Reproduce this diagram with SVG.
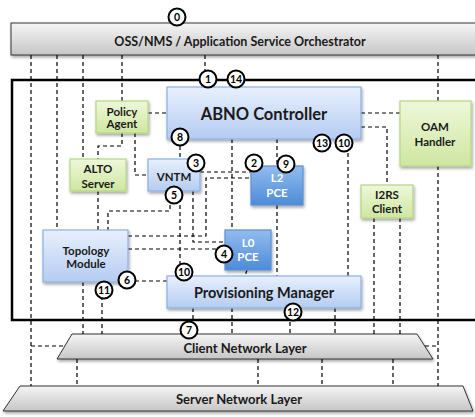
<svg xmlns="http://www.w3.org/2000/svg" width="475" height="417" viewBox="0 0 475 417">
<defs>
<linearGradient id="gGray" x1="0" y1="0" x2="0" y2="1"><stop offset="0" stop-color="#f5f5f5"/><stop offset="1" stop-color="#c6c6c6"/></linearGradient>
<linearGradient id="gBlue" x1="0" y1="0" x2="0" y2="1"><stop offset="0" stop-color="#e8f0fd"/><stop offset="1" stop-color="#b4ccf2"/></linearGradient>
<linearGradient id="gDark" x1="0" y1="0" x2="0" y2="1"><stop offset="0" stop-color="#92bcee"/><stop offset="1" stop-color="#4d8bd9"/></linearGradient>
<linearGradient id="gGreen" x1="0" y1="0" x2="0" y2="1"><stop offset="0" stop-color="#eef8da"/><stop offset="1" stop-color="#cfe6a0"/></linearGradient>
<filter id="sh" x="-10%" y="-10%" width="130%" height="140%"><feDropShadow dx="1" dy="2" stdDeviation="1.5" flood-color="#000" flood-opacity="0.35"/></filter>
</defs>
<style>
.c{fill:none;stroke:#000;stroke-width:1.2;stroke-dasharray:4 3}
.gray{fill:url(#gGray);stroke:#333;stroke-width:1;filter:url(#sh)}
.blue{fill:url(#gBlue);stroke:#8eb0e2;stroke-width:1.2;filter:url(#sh)}
.dark{fill:url(#gDark);stroke:#5b8fd4;stroke-width:1.2;filter:url(#sh)}
.green{fill:url(#gGreen);stroke:#b6d584;stroke-width:1.2;filter:url(#sh)}
text{font-family:Lato,"Liberation Sans",sans-serif;font-weight:bold;text-anchor:middle;fill:#1a1a1a}
.s{font-size:11.5px}
.w{fill:#fff}
.n circle{fill:#fff;stroke:#000;stroke-width:2}
.n text{font-size:10.5px;fill:#000}
</style>
<rect x="12" y="80" width="475" height="240" fill="none" stroke="#000" stroke-width="2.5"/>
<g id="orchestrator"><rect class="gray" x="11" y="23" width="470" height="32"/><text x="240" y="45.5" font-size="12.5">OSS/NMS / Application Service Orchestrator</text></g>
<g id="client-layer"><polygon class="gray" points="72,334 417,334 433,359 57,359"/><text x="245" y="353" font-size="13">Client Network Layer</text></g>
<g id="server-layer"><polygon class="gray" points="20,386 463,386 473,411 3,411"/><text x="239" y="404" font-size="13">Server Network Layer</text></g>
<g id="connectors">
<path class="c" d="M31,55V386M31,346H65M57,55V230M83,55V159M122,55V101M205,55V71M438,55V101"/>
<path class="c" d="M148,113H167M122,133V146H98V159M135,133V175H148M98,191V230"/>
<path class="c" d="M180,139V159M200,172H251M128,236H206V178H251M170,191V211H108V230M180,191V276M193,191V242H225M128,249H225M128,281H167"/>
<path class="c" d="M232,139V230M277,139V166M277,205V276M247,270L245,276M348,139V276M361,113H400M361,127H387V185M438,166V386M425,346H438"/>
<path class="c" d="M83,282V334M102,282V334M193,308V334M232,308V334M290,308V334M335,308V334M374,218V334M400,218V334"/>
<path class="c" d="M77,359V386M258,359V386M322,359V386M393,359V386"/>
</g>
<g id="abno-controller"><rect class="blue" x="167" y="87" width="194" height="52"/><text x="264" y="120" font-size="16.5">ABNO Controller</text></g>
<g id="policy-agent"><rect class="green" x="96" y="101" width="52" height="32"/><text class="s" x="122" y="115.5">Policy</text><text class="s" x="122" y="128">Agent</text></g>
<g id="alto-server"><rect class="green" x="70" y="159" width="56" height="32"/><text class="s" x="98" y="173">ALTO</text><text class="s" x="98" y="188">Server</text></g>
<g id="vntm"><rect class="blue" x="148" y="159" width="52" height="32"/><text class="s" x="174" y="181">VNTM</text></g>
<g id="l2-pce"><rect class="dark" x="251" y="166" width="52" height="39"/><text class="s w" x="277" y="182">L2</text><text class="s w" x="277" y="197">PCE</text></g>
<g id="oam-handler"><rect class="green" x="400" y="101" width="71" height="65"/><text class="s" x="435" y="131">OAM</text><text class="s" x="435" y="146">Handler</text></g>
<g id="i2rs-client"><rect class="green" x="361" y="185" width="52" height="33"/><text class="s" x="387" y="199">I2RS</text><text class="s" x="387" y="213">Client</text></g>
<g id="topology-module"><rect class="blue" x="43" y="230" width="85" height="52"/><text class="s" x="86" y="255">Topology</text><text class="s" x="86" y="268">Module</text></g>
<g id="l0-pce"><rect class="dark" x="225" y="230" width="46" height="40"/><text class="s w" x="248" y="247">L0</text><text class="s w" x="248" y="261">PCE</text></g>
<g id="provisioning-manager"><rect class="blue" x="167" y="276" width="194" height="32"/><text x="264" y="297.5" font-size="14.5">Provisioning Manager</text></g>
<g id="step-labels" class="n">
<g><circle cx="177" cy="17" r="8.5"/><text x="177" y="21">0</text></g>
<g><circle cx="208" cy="79" r="8.5"/><text x="208" y="83">1</text></g>
<g><circle cx="236" cy="79" r="8.5"/><text x="236" y="83">14</text></g>
<g><circle cx="180" cy="137" r="8.5"/><text x="180" y="141">8</text></g>
<g><circle cx="196" cy="163" r="8.5"/><text x="196" y="167">3</text></g>
<g><circle cx="254" cy="163" r="8.5"/><text x="254" y="167">2</text></g>
<g><circle cx="286" cy="164" r="8.5"/><text x="286" y="168">9</text></g>
<g><circle cx="322" cy="143" r="8.5"/><text x="322" y="147">13</text></g>
<g><circle cx="344" cy="143" r="8.5"/><text x="344" y="147">10</text></g>
<g><circle cx="174" cy="195" r="8.5"/><text x="174" y="199">5</text></g>
<g><circle cx="224" cy="254" r="8.5"/><text x="224" y="258">4</text></g>
<g><circle cx="127" cy="280" r="8.5"/><text x="127" y="284">6</text></g>
<g><circle cx="104" cy="290" r="8.5"/><text x="104" y="294">11</text></g>
<g><circle cx="184" cy="272" r="8.5"/><text x="184" y="276">10</text></g>
<g><circle cx="293" cy="312" r="8.5"/><text x="293" y="316">12</text></g>
<g><circle cx="189" cy="330" r="8.5"/><text x="189" y="334">7</text></g>
</g>
</svg>
